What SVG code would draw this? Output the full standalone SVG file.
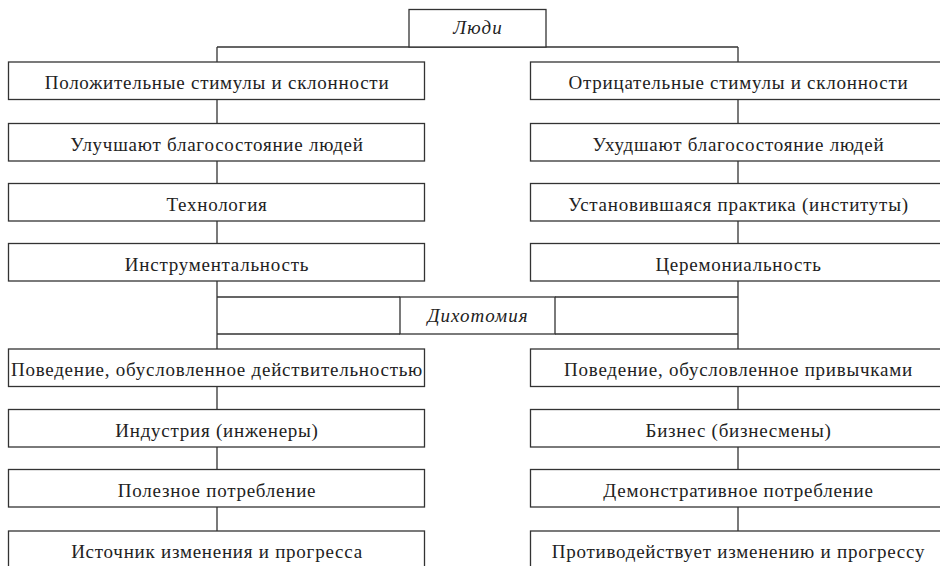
<svg xmlns="http://www.w3.org/2000/svg" width="940" height="566" viewBox="0 0 940 566">
<style>
.box{fill:#fff;stroke:#333;stroke-width:1.3}
.ln{fill:none;stroke:#333;stroke-width:1.3}
.t{font-family:"Liberation Serif","DejaVu Serif",serif;font-size:19px;letter-spacing:0.75px;fill:#222;text-anchor:middle}
.i{font-style:italic;letter-spacing:1px}
</style>
<rect width="940" height="566" fill="#fff"/>
<g id="connectors">
<path class="ln" d="M217 47H738M217 47V62M738 47V62"/>
<path class="ln" d="M217 99.5V123.5M738 99.5V123.5M217 161V183.5M738 161V183.5M217 221V243.5M738 221V243.5"/>
<path class="ln" d="M217 281V349M738 281V349M217 297H400M555 297H738M217 334H400M555 334H738"/>
<path class="ln" d="M217 386.5V409.5M738 386.5V409.5M217 447V469.5M738 447V469.5M217 507V531M738 507V531"/>
</g>
<g id="n-people"><rect class="box" x="409" y="9.5" width="137" height="37.5"/><text class="t i" x="478" y="34">Люди</text></g>
<g id="n-dichotomy"><rect class="box" x="400" y="297" width="155" height="37"/><text class="t i" x="478" y="322">Дихотомия</text></g>
<g id="n-l1"><rect class="box" x="8.5" y="62" width="416" height="37.5"/><text class="t" x="217" y="89">Положительные стимулы и склонности</text></g>
<g id="n-r1"><rect class="box" x="530.5" y="62" width="420" height="37.5"/><text class="t" x="738.5" y="89">Отрицательные стимулы и склонности</text></g>
<g id="n-l2"><rect class="box" x="8.5" y="123.5" width="416" height="37.5"/><text class="t" x="217" y="150.5">Улучшают благосостояние людей</text></g>
<g id="n-r2"><rect class="box" x="530.5" y="123.5" width="420" height="37.5"/><text class="t" x="738.5" y="150.5">Ухудшают благосостояние людей</text></g>
<g id="n-l3"><rect class="box" x="8.5" y="183.5" width="416" height="37.5"/><text class="t" x="217" y="210.5">Технология</text></g>
<g id="n-r3"><rect class="box" x="530.5" y="183.5" width="420" height="37.5"/><text class="t" x="738.5" y="210.5">Установившаяся практика (институты)</text></g>
<g id="n-l4"><rect class="box" x="8.5" y="243.5" width="416" height="37.5"/><text class="t" x="217" y="270.5">Инструментальность</text></g>
<g id="n-r4"><rect class="box" x="530.5" y="243.5" width="420" height="37.5"/><text class="t" x="738.5" y="270.5">Церемониальность</text></g>
<g id="n-l5"><rect class="box" x="8.5" y="349" width="416" height="37.5"/><text class="t" x="217" y="376">Поведение, обусловленное действительностью</text></g>
<g id="n-r5"><rect class="box" x="530.5" y="349" width="420" height="37.5"/><text class="t" x="738.5" y="376">Поведение, обусловленное привычками</text></g>
<g id="n-l6"><rect class="box" x="8.5" y="409.5" width="416" height="37.5"/><text class="t" x="217" y="436.5">Индустрия (инженеры)</text></g>
<g id="n-r6"><rect class="box" x="530.5" y="409.5" width="420" height="37.5"/><text class="t" x="738.5" y="436.5">Бизнес (бизнесмены)</text></g>
<g id="n-l7"><rect class="box" x="8.5" y="469.5" width="416" height="37.5"/><text class="t" x="217" y="496.5">Полезное потребление</text></g>
<g id="n-r7"><rect class="box" x="530.5" y="469.5" width="420" height="37.5"/><text class="t" x="738.5" y="496.5">Демонстративное потребление</text></g>
<g id="n-l8"><rect class="box" x="8.5" y="531" width="416" height="40"/><text class="t" x="217" y="558">Источник изменения и прогресса</text></g>
<g id="n-r8"><rect class="box" x="530.5" y="531" width="420" height="40"/><text class="t" x="738.5" y="558">Противодействует изменению и прогрессу</text></g>
</svg>
